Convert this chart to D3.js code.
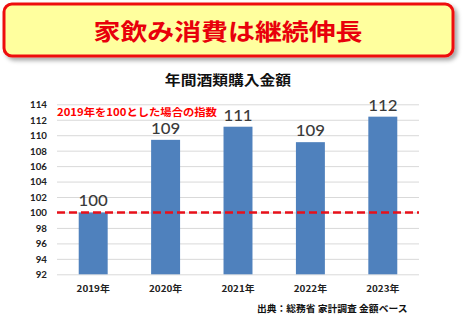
<!DOCTYPE html>
<html lang="ja">
<head>
<meta charset="utf-8">
<script src="https://cdn.jsdelivr.net/npm/d3@7"></script>
<style>
  html, body { margin: 0; padding: 0; background: #fff; }
  svg { display: block; }
</style>
</head>
<body>
<div id="chart"></div>
<script>
// Annual alcohol purchase spending, indexed to 2019 = 100
const headline = "家飲み消費は継続伸長";
const chartTitle = "年間酒類購入金額";
const noteText = "2019年を100とした場合の指数";
const sourceText = "出典：総務省 家計調査 金額ベース";
const years = ["2019年", "2020年", "2021年", "2022年", "2023年"];
const indexValues = [100, 109.4, 111.1, 109.1, 112.4];
const yTicks = [92, 94, 96, 98, 100, 102, 104, 106, 108, 110, 112, 114];
const baselineValue = 100;

const W = 465, H = 322;
const jp = "'Noto Sans CJK JP', 'Noto Sans', sans-serif";
const num = "Lato, 'Noto Sans', sans-serif";

const svg = d3.select("#chart").append("svg")
  .attr("width", W).attr("height", H);

// soft shadow behind the headline banner
const defs = svg.append("defs");
const f = defs.append("filter").attr("id", "shadow")
  .attr("x", "-5%").attr("y", "-20%").attr("width", "115%").attr("height", "160%");
f.append("feDropShadow").attr("dx", 3).attr("dy", 3)
  .attr("stdDeviation", 2).attr("flood-color", "#000").attr("flood-opacity", 0.35);

// headline banner
svg.append("rect")
  .attr("x", 4).attr("y", 4).attr("width", 449).attr("height", 52)
  .attr("rx", 8).attr("ry", 8)
  .attr("fill", "#FFFF9E").attr("stroke", "#EE1111").attr("stroke-width", 3)
  .attr("filter", "url(#shadow)");

// text helper: draws a label horizontally widened by sx around its anchor
function label(g, x, y, txt, o) {
  return g.append("text")
    .attr("transform", `translate(${x},${y}) scale(${o.sx || 1},1)`)
    .attr("text-anchor", o.anchor || "start")
    .attr("dominant-baseline", o.baseline || "auto")
    .attr("font-family", o.family || jp)
    .attr("font-size", o.size)
    .attr("font-weight", o.weight || 400)
    .attr("fill", o.fill || "#000")
    .text(txt);
}

label(svg, 228, 40, headline,
  { anchor: "middle", size: 23, weight: 700, fill: "#E8000B", sx: 1.17 });

label(svg, 228, 85, chartTitle,
  { anchor: "middle", size: 13.5, weight: 700, fill: "#111", sx: 1.17 });

// plot area
const left = 57, right = 419;
const x = d3.scaleBand().domain(years).range([left, right])
  .paddingInner(0.6).paddingOuter(0.3);
const y = d3.scaleLinear().domain([92, 114]).range([274.3, 104.3]);

// gridlines + y tick labels
const yAxis = d3.axisLeft(y).tickValues(yTicks)
  .tickSize(-(right - left)).tickPadding(10).tickFormat(d3.format("d"));
const ya = svg.append("g").attr("transform", `translate(${left},0)`).call(yAxis);
ya.select(".domain").remove();
ya.selectAll(".tick line").attr("stroke", "#D9D9D9").attr("stroke-width", 1);
ya.selectAll(".tick text")
  .attr("x", null).attr("dy", null)
  .attr("transform", "translate(-10,0) scale(1.08,1)")
  .attr("dominant-baseline", "central")
  .attr("font-family", num).attr("font-size", 9).attr("font-weight", 700)
  .attr("fill", "#222");

// bars
svg.append("g").selectAll("rect").data(indexValues).join("rect")
  .attr("x", (d, i) => x(years[i]))
  .attr("width", x.bandwidth())
  .attr("y", d => y(d))
  .attr("height", d => y(92) - y(d))
  .attr("fill", "#4F81BD");

// value labels
const fmt = d3.format(".0f");
const vl = svg.append("g");
indexValues.forEach((d, i) => {
  label(vl, x(years[i]) + x.bandwidth() / 2, y(d) - 6, fmt(d),
    { anchor: "middle", size: 15, weight: 500, fill: "#3A3A3A", family: num, sx: 1.12 });
});

// 2019 baseline reference
svg.append("line")
  .attr("x1", left).attr("x2", right)
  .attr("y1", y(baselineValue)).attr("y2", y(baselineValue))
  .attr("stroke", "#E8101A").attr("stroke-width", 2.5)
  .attr("stroke-dasharray", "8,4");

// x axis labels
const xa = svg.append("g");
years.forEach(yr => {
  label(xa, x(yr) + x.bandwidth() / 2, 288, yr,
    { anchor: "middle", baseline: "central", size: 9, weight: 700, fill: "#222", sx: 1.1 });
});

// index note
label(svg, 57, 111, noteText,
  { baseline: "central", size: 10.5, weight: 700, fill: "#FF0000", sx: 1.08 });

// source
label(svg, 257, 308, sourceText,
  { baseline: "central", size: 9.5, weight: 700, fill: "#111", sx: 1.03 });
</script>
</body>
</html>
